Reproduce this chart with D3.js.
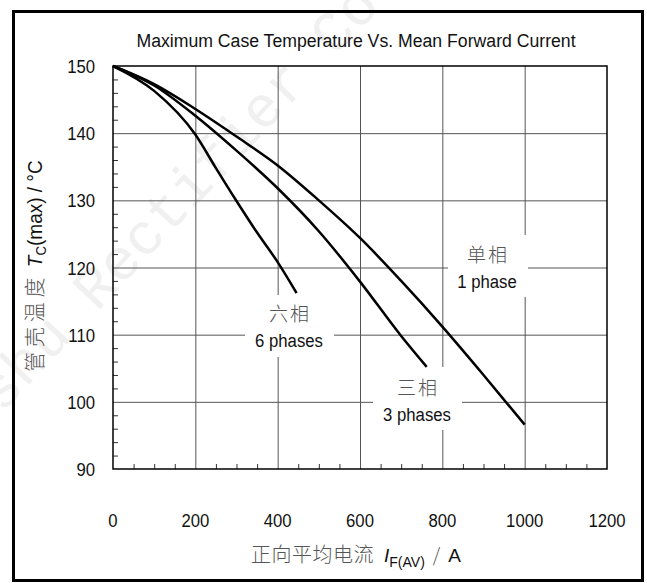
<!DOCTYPE html>
<html>
<head>
<meta charset="utf-8">
<script src="https://cdn.jsdelivr.net/npm/d3@7"></script>
<style>
  body { margin: 0; background: #fff; }
  svg text { font-family: "Liberation Sans", Arial, sans-serif; }
  .cjk { font-family: "Noto Sans CJK SC", sans-serif; font-weight: 300; fill: #555; }
</style>
</head>
<body>
<div class="chart"></div>
<script>
var width = 647, height = 583;

// data
var xTicks = [0, 200, 400, 600, 800, 1000, 1200];
var yTicks = [90, 100, 110, 120, 130, 140, 150];

var onePhaseI = [0, 100, 200, 300, 400, 500, 600, 700, 800, 900, 1000];
var onePhaseT = [150, 147.3, 143.6, 139.5, 135.2, 130, 124.4, 118, 111.2, 104, 96.6];

var threePhaseI = [0, 100, 200, 300, 400, 500, 600, 700, 762];
var threePhaseT = [150, 147.1, 142.6, 137.4, 131.8, 125.4, 117.9, 109.8, 105.2];

var sixPhaseI = [0, 100, 200, 250, 300, 350, 400, 446];
var sixPhaseT = [150, 146.3, 139.8, 134.8, 129.9, 125.2, 120.8, 116.2];

var narrow = 0.88;

var svg = d3.select(".chart")
    .append("svg")
    .attr("width", width)
    .attr("height", height);

var x = d3.scaleLinear().domain([0, 1200]).range([113, 607]);
var y = d3.scaleLinear().domain([90, 150]).range([469, 66]);

// faint watermark
svg.append("text")
    .attr("transform", "translate(2,414) rotate(-47)")
    .attr("font-size", 58)
    .attr("fill", "#f0f0f0")
    .style("font-family", "Liberation Mono, monospace")
    .text("shu Rectifier Co. .");

// outer frame
svg.append("rect")
    .attr("x", 13.5).attr("y", 11.5)
    .attr("width", 629).attr("height", 569)
    .attr("fill", "none")
    .attr("stroke", "#000")
    .attr("stroke-width", 3);

// grid
svg.append("g").selectAll("line")
    .data(xTicks.slice(1, -1))
    .enter().append("line")
    .attr("x1", function(d) { return x(d) + 0.5; })
    .attr("x2", function(d) { return x(d) + 0.5; })
    .attr("y1", y(150)).attr("y2", y(90))
    .attr("stroke", "#555").attr("stroke-width", 1);

svg.append("g").selectAll("line")
    .data(yTicks.slice(1, -1))
    .enter().append("line")
    .attr("y1", function(d) { return y(d) + 0.5; })
    .attr("y2", function(d) { return y(d) + 0.5; })
    .attr("x1", x(0)).attr("x2", x(1200))
    .attr("stroke", "#555").attr("stroke-width", 1);

// minor ticks
svg.append("g").selectAll("line")
    .data(d3.range(50, 1200, 50).filter(function(d) { return d % 200; }))
    .enter().append("line")
    .attr("x1", function(d) { return x(d) + 0.5; })
    .attr("x2", function(d) { return x(d) + 0.5; })
    .attr("y1", y(90)).attr("y2", y(90) - 5)
    .attr("stroke", "#333");

svg.append("g").selectAll("line")
    .data(d3.range(92, 150, 2).filter(function(d) { return d % 10; }))
    .enter().append("line")
    .attr("y1", function(d) { return y(d) + 0.5; })
    .attr("y2", function(d) { return y(d) + 0.5; })
    .attr("x1", x(0)).attr("x2", x(0) + 5)
    .attr("stroke", "#333");

// plot frame
svg.append("rect")
    .attr("x", x(0)).attr("y", y(150))
    .attr("width", x(1200) - x(0)).attr("height", y(90) - y(150))
    .attr("fill", "none").attr("stroke", "#000").attr("stroke-width", 1.5);

// curve labels with white boxes
var labels = [
  {cn: "单相", en: "1 phase", cx: 487, box: [448, 235, 80, 62], b1: 262, b2: 288},
  {cn: "六相", en: "6 phases", cx: 289, box: [245, 295, 89, 62], b1: 321, b2: 347},
  {cn: "三相", en: "3 phases", cx: 417, box: [373, 367, 89, 63], b1: 395, b2: 421}
];

var lab = svg.append("g").selectAll("g").data(labels).enter().append("g");
lab.append("rect")
    .attr("x", function(d) { return d.box[0]; })
    .attr("y", function(d) { return d.box[1]; })
    .attr("width", function(d) { return d.box[2]; })
    .attr("height", function(d) { return d.box[3]; })
    .attr("fill", "#fff");
lab.append("text")
    .attr("class", "cjk")
    .attr("x", function(d) { return d.cx + 1; })
    .attr("y", function(d) { return d.b1; })
    .attr("text-anchor", "middle")
    .attr("font-size", 19)
    .attr("letter-spacing", 2)
    .text(function(d) { return d.cn; });
lab.append("text")
    .attr("transform", function(d) { return "translate(" + d.cx + "," + d.b2 + ") scale(" + narrow + ",1)"; })
    .attr("text-anchor", "middle")
    .attr("font-size", 19)
    .attr("fill", "#111")
    .text(function(d) { return d.en; });

// curves
var line = d3.line()
    .x(function(d) { return x(d[0]); })
    .y(function(d) { return y(d[1]); })
    .curve(d3.curveMonotoneX);

[[onePhaseI, onePhaseT], [threePhaseI, threePhaseT], [sixPhaseI, sixPhaseT]].forEach(function(s) {
  svg.append("path")
      .datum(d3.zip(s[0], s[1]))
      .attr("d", line)
      .attr("fill", "none")
      .attr("stroke", "#000")
      .attr("stroke-width", 2.5);
});

// tick labels
svg.append("g").selectAll("text")
    .data(xTicks)
    .enter().append("text")
    .attr("transform", function(d) { return "translate(" + x(d) + ",527) scale(" + narrow + ",1)"; })
    .attr("text-anchor", "middle")
    .attr("font-size", 19)
    .attr("fill", "#111")
    .text(function(d) { return d; });

svg.append("g").selectAll("text")
    .data(yTicks)
    .enter().append("text")
    .attr("transform", function(d) { return "translate(95," + (y(d) + 7) + ") scale(" + narrow + ",1)"; })
    .attr("text-anchor", "end")
    .attr("font-size", 19)
    .attr("fill", "#111")
    .text(function(d) { return d; });

// title
svg.append("text")
    .attr("transform", "translate(356,47) scale(0.93,1)")
    .attr("text-anchor", "middle")
    .attr("font-size", 19)
    .attr("fill", "#111")
    .text("Maximum Case Temperature Vs. Mean Forward Current");

// y axis title
var yt = svg.append("text")
    .attr("transform", "translate(42,266) rotate(-90) scale(0.95,1)")
    .attr("text-anchor", "middle")
    .attr("font-size", 20)
    .attr("fill", "#111");
yt.append("tspan").attr("class", "cjk").attr("font-size", 21).attr("letter-spacing", 5).text("管壳温度");
yt.append("tspan").attr("dx", 6).attr("font-style", "italic").text("T");
yt.append("tspan").attr("dy", 4).attr("font-size", 14).text("C");
yt.append("tspan").attr("dy", -4).text("(max) / °C");

// x axis title
var xt = svg.append("text")
    .attr("x", 356).attr("y", 562)
    .attr("text-anchor", "middle")
    .attr("font-size", 19)
    .attr("fill", "#111");
xt.append("tspan").attr("class", "cjk").attr("font-size", 20).attr("letter-spacing", 0.5).text("正向平均电流");
xt.append("tspan").attr("dx", 10).attr("font-style", "italic").text("I");
xt.append("tspan").attr("dy", 5).attr("font-size", 14).text("F(AV)");
xt.append("tspan").attr("dy", -5).attr("dx", 8).attr("class", "cjk").text("/");
xt.append("tspan").attr("dx", 8).text("A");
</script>
</body>
</html>
